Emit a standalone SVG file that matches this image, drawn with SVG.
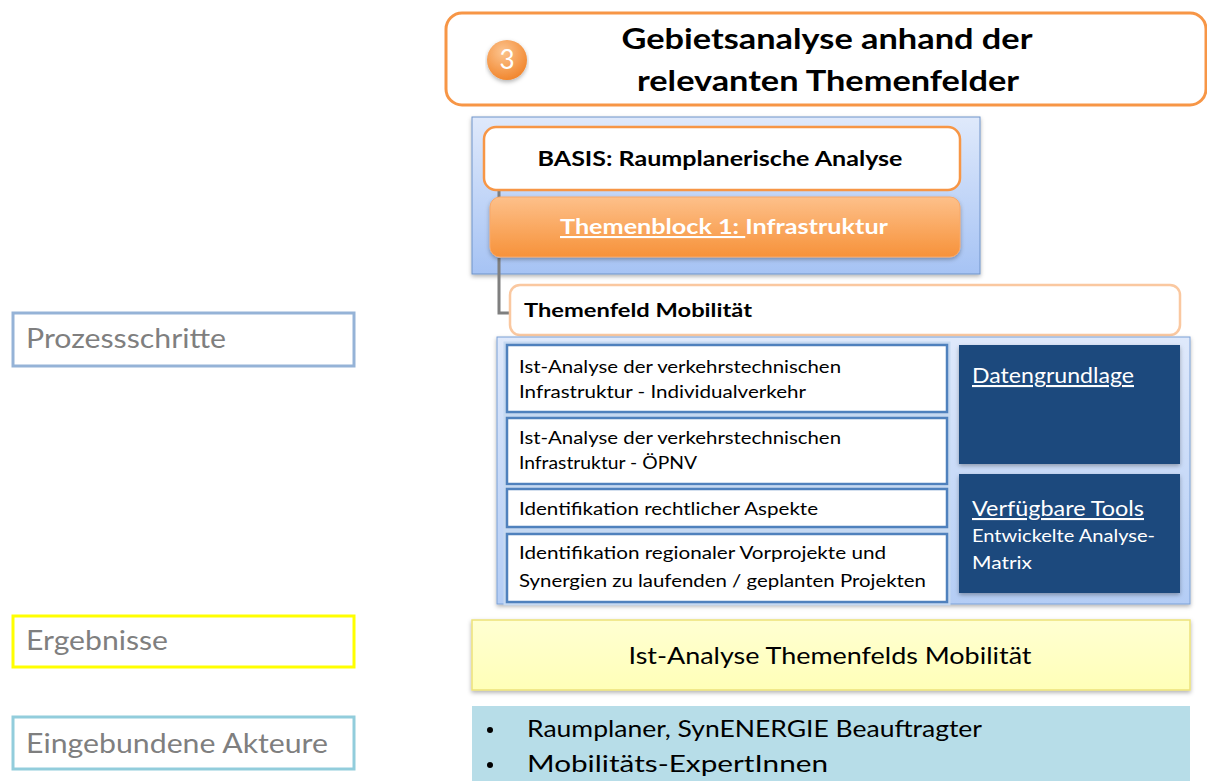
<svg xmlns="http://www.w3.org/2000/svg" width="1207" height="781" viewBox="0 0 1207 781">
<defs>
<linearGradient id="gBlue" x1="0" y1="0" x2="0" y2="1"><stop offset="0" stop-color="#dfe9fb"/><stop offset="1" stop-color="#a6c3f4"/></linearGradient>
<linearGradient id="gBlue2" x1="0" y1="0" x2="0" y2="1"><stop offset="0" stop-color="#dfe9fb"/><stop offset="1" stop-color="#b4cdf5"/></linearGradient>
<linearGradient id="gOrange" x1="0" y1="0" x2="0" y2="1"><stop offset="0" stop-color="#fdc08a"/><stop offset="1" stop-color="#f7923a"/></linearGradient>
<linearGradient id="gYellow" x1="0" y1="0" x2="0" y2="1"><stop offset="0" stop-color="#ffffd2"/><stop offset="1" stop-color="#ffffb8"/></linearGradient>
<radialGradient id="gCircle" cx="0.4" cy="0.3" r="0.8"><stop offset="0" stop-color="#fcc48f"/><stop offset="1" stop-color="#f07f22"/></radialGradient>
<filter id="sh" x="-5%" y="-10%" width="110%" height="130%"><feDropShadow dx="0" dy="2" stdDeviation="2" flood-color="#000" flood-opacity="0.3"/></filter>
</defs>
<style>
text{font-family:Lato,"Open Sans","Liberation Sans",sans-serif;}
.b{font-weight:bold;fill:#000;}
.box{fill:#fff;stroke:#4f81bd;stroke-width:2.5;}
.glow{fill:none;stroke:#c6d9f1;stroke-width:7;}
.t17{font-size:17.5px;fill:#000;}
.dark{fill:#1f497d;}
.wt{fill:#fff;}
.lbl{font-size:27px;fill:#7f7f7f;}
.conn{fill:none;stroke:#7f7f7f;stroke-width:3;}
</style>

<g id="left-labels">
<g id="lbl-prozess"><rect x="13" y="313" width="341" height="53" fill="#fff" stroke="#95b3d7" stroke-width="3"/><text class="lbl" x="26" y="348" textLength="200" lengthAdjust="spacingAndGlyphs">Prozessschritte</text></g>
<g id="lbl-ergebnisse"><rect x="13" y="616" width="341" height="51" fill="#fff" stroke="#ffff00" stroke-width="3"/><text class="lbl" x="26" y="650" textLength="142" lengthAdjust="spacingAndGlyphs">Ergebnisse</text></g>
<g id="lbl-akteure"><rect x="13" y="717" width="341" height="52" fill="#fff" stroke="#92cddc" stroke-width="3"/><text class="lbl" x="26" y="753" textLength="302" lengthAdjust="spacingAndGlyphs">Eingebundene Akteure</text></g>
</g>

<g id="title">
<rect x="446" y="13" width="760" height="92" rx="16" fill="#fff" stroke="#f79646" stroke-width="3"/>
<circle cx="507" cy="60" r="20" fill="url(#gCircle)" filter="url(#sh)"/>
<text x="507" y="69" text-anchor="middle" font-size="26" fill="#fff">3</text>
<text class="b" x="827" y="49" text-anchor="middle" font-size="29" textLength="411" lengthAdjust="spacingAndGlyphs">Gebietsanalyse anhand der</text>
<text class="b" x="828" y="91" text-anchor="middle" font-size="29" textLength="382" lengthAdjust="spacingAndGlyphs">relevanten Themenfelder</text>
</g>

<g id="container-top">
<rect x="472" y="117" width="508" height="157" fill="url(#gBlue)" stroke="#6f93c9" stroke-width="1" filter="url(#sh)"/>
</g>

<g id="connectors">
<path class="conn" d="M499 180 V197"/>
<path class="conn" d="M499 258 V313 H511"/>
</g>

<g id="basis">
<rect x="484" y="127" width="476" height="63" rx="12" fill="#fff" stroke="#f79646" stroke-width="2.5"/>
<text class="b" x="720" y="166" text-anchor="middle" font-size="21" textLength="365" lengthAdjust="spacingAndGlyphs">BASIS: Raumplanerische Analyse</text>
</g>

<g id="themenblock">
<rect x="490" y="197" width="470" height="60" rx="10" fill="url(#gOrange)" stroke="#f9a868" stroke-width="1" filter="url(#sh)"/>
<text x="560" y="234" font-size="21" font-weight="bold" fill="#fff" textLength="328" lengthAdjust="spacingAndGlyphs"><tspan text-decoration="underline">Themenblock 1: </tspan>Infrastruktur</text>
</g>

<g id="themenfeld">
<rect x="510" y="285" width="670" height="50" rx="10" fill="#fff" stroke="#fac8a0" stroke-width="2.5"/>
<text class="b" x="524" y="317" font-size="19" textLength="228" lengthAdjust="spacingAndGlyphs">Themenfeld Mobilität</text>
</g>

<g id="container-bottom">
<rect x="497" y="337" width="693" height="267" fill="url(#gBlue2)" stroke="#7ba0d6" stroke-width="1" filter="url(#sh)"/>
</g>

<g id="step1">
<rect class="glow" x="507" y="345" width="440" height="67"/><rect class="box" x="507" y="345" width="440" height="67"/>
<text class="t17" x="519" y="373" textLength="322" lengthAdjust="spacingAndGlyphs">Ist-Analyse der verkehrstechnischen</text>
<text class="t17" x="519" y="398" textLength="287" lengthAdjust="spacingAndGlyphs">Infrastruktur - Individualverkehr</text>
</g>
<g id="step2">
<rect class="glow" x="507" y="418" width="440" height="66"/><rect class="box" x="507" y="418" width="440" height="66"/>
<text class="t17" x="519" y="444" textLength="322" lengthAdjust="spacingAndGlyphs">Ist-Analyse der verkehrstechnischen</text>
<text class="t17" x="519" y="469" textLength="178" lengthAdjust="spacingAndGlyphs">Infrastruktur - ÖPNV</text>
</g>
<g id="step3">
<rect class="glow" x="507" y="489" width="440" height="38"/><rect class="box" x="507" y="489" width="440" height="38"/>
<text class="t17" x="519" y="515" textLength="299" lengthAdjust="spacingAndGlyphs">Identifikation rechtlicher Aspekte</text>
</g>
<g id="step4">
<rect class="glow" x="507" y="534" width="440" height="68"/><rect class="box" x="507" y="534" width="440" height="68"/>
<text class="t17" x="519" y="559" textLength="367" lengthAdjust="spacingAndGlyphs">Identifikation regionaler Vorprojekte und</text>
<text class="t17" x="519" y="587" textLength="407" lengthAdjust="spacingAndGlyphs">Synergien zu laufenden / geplanten Projekten</text>
</g>

<g id="daten">
<rect class="dark" x="959" y="345" width="221" height="119" filter="url(#sh)"/>
<text class="wt" x="972" y="383" font-size="21" text-decoration="underline" textLength="162" lengthAdjust="spacingAndGlyphs">Datengrundlage</text>
</g>
<g id="tools">
<rect class="dark" x="959" y="474" width="221" height="119" filter="url(#sh)"/>
<text class="wt" x="972" y="516" font-size="21" text-decoration="underline" textLength="172" lengthAdjust="spacingAndGlyphs">Verfügbare  Tools</text>
<text class="wt" x="972" y="542" font-size="17.5" textLength="183" lengthAdjust="spacingAndGlyphs">Entwickelte Analyse-</text>
<text class="wt" x="972" y="569" font-size="17.5" textLength="60" lengthAdjust="spacingAndGlyphs">Matrix</text>
</g>

<g id="ergebnis">
<rect x="472" y="620" width="718" height="70" fill="url(#gYellow)" stroke="#ede27a" stroke-width="1.5" filter="url(#sh)"/>
<text x="830" y="664" text-anchor="middle" font-size="23" fill="#000" textLength="403" lengthAdjust="spacingAndGlyphs">Ist-Analyse Themenfelds Mobilität</text>
</g>

<g id="akteure">
<rect x="472" y="706" width="718" height="80" fill="#b7dde8"/>
<circle cx="490" cy="730" r="3" fill="#000"/>
<circle cx="490" cy="765" r="3" fill="#000"/>
<text x="527" y="737" font-size="23" fill="#000" textLength="455" lengthAdjust="spacingAndGlyphs">Raumplaner, SynENERGIE Beauftragter</text>
<text x="527" y="772" font-size="23" fill="#000" textLength="301" lengthAdjust="spacingAndGlyphs">Mobilitäts-ExpertInnen</text>
</g>
</svg>
